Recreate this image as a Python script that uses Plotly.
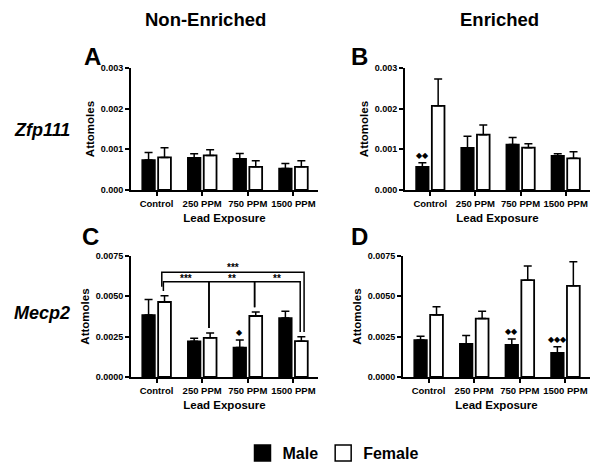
import plotly.graph_objects as go
from plotly.subplots import make_subplots

# Lead exposure groups
doses = ["Control", "250 PPM", "750 PPM", "1500 PPM"]

# Zfp111, non-enriched (panel A)
zfp_ne_male = [0.00074, 0.00079, 0.00077, 0.00053]
zfp_ne_male_err = [0.00018, 0.00010, 0.00013, 0.00012]
zfp_ne_female = [0.00080, 0.00085, 0.00057, 0.00057]
zfp_ne_female_err = [0.00024, 0.00014, 0.00015, 0.00015]

# Zfp111, enriched (panel B)
zfp_en_male = [0.00057, 0.00104, 0.00112, 0.00084]
zfp_en_male_err = [0.00010, 0.00028, 0.00017, 0.00005]
zfp_en_female = [0.00207, 0.00136, 0.00104, 0.00078]
zfp_en_female_err = [0.00066, 0.00024, 0.00010, 0.00016]

# Mecp2, non-enriched (panel C)
mecp_ne_male = [0.00385, 0.00222, 0.00183, 0.00365]
mecp_ne_male_err = [0.00095, 0.00018, 0.00047, 0.00042]
mecp_ne_female = [0.00465, 0.00243, 0.00378, 0.00222]
mecp_ne_female_err = [0.00038, 0.00030, 0.00025, 0.00027]

# Mecp2, enriched (panel D)
mecp_en_male = [0.00230, 0.00206, 0.00200, 0.00150]
mecp_en_male_err = [0.00022, 0.00052, 0.00035, 0.00038]
mecp_en_female = [0.00385, 0.00362, 0.00600, 0.00565]
mecp_en_female_err = [0.00050, 0.00045, 0.00088, 0.00150]

# male vs female markers over male bars
zfp_ne_marks = ["", "", "", ""]
zfp_en_marks = ["◆◆", "", "", ""]
mecp_ne_marks = ["", "", "◆", ""]
mecp_en_marks = ["", "", "◆◆", "◆◆◆"]

# female comparisons in panel C: (group a, group b, stars, level)
mecp_ne_brackets = [(0, 1, "***", 1), (1, 2, "**", 1), (2, 3, "**", 1), (0, 3, "***", 2)]

FONT = "Liberation Sans, Arial, sans-serif"

# the page body has an 8px margin, so the figure is made 8px smaller
# and positions below are given in window pixels
PAD = 8
W, H = 601 - PAD, 475 - PAD


def X(px):
    return (px - PAD) / W


def Y(py):
    return 1 - (py - PAD) / H


fig = make_subplots(rows=2, cols=2, horizontal_spacing=0.1, vertical_spacing=0.1)

panels = [
    (1, 1, zfp_ne_male, zfp_ne_male_err, zfp_ne_female, zfp_ne_female_err, zfp_ne_marks, 0.003, 0.001, ".3f"),
    (1, 2, zfp_en_male, zfp_en_male_err, zfp_en_female, zfp_en_female_err, zfp_en_marks, 0.003, 0.001, ".3f"),
    (2, 1, mecp_ne_male, mecp_ne_male_err, mecp_ne_female, mecp_ne_female_err, mecp_ne_marks, 0.0075, 0.0025, ".4f"),
    (2, 2, mecp_en_male, mecp_en_male_err, mecp_en_female, mecp_en_female_err, mecp_en_marks, 0.0075, 0.0025, ".4f"),
]

OFF = 0.175  # half distance between male/female bar centres (category units)

for r, c, m, me, f, fe, marks, ymax, dt, fmt in panels:
    fig.add_trace(go.Bar(
        x=doses, y=m, name="Male", showlegend=False,
        marker=dict(color="black", line=dict(color="black", width=1.5)),
        error_y=dict(type="data", array=me, arrayminus=[0] * 4, symmetric=False,
                     color="black", thickness=1.5, width=4),
    ), row=r, col=c)
    fig.add_trace(go.Bar(
        x=doses, y=f, name="Female", showlegend=False,
        marker=dict(color="white", line=dict(color="black", width=1.8)),
        error_y=dict(type="data", array=fe, arrayminus=[0] * 4, symmetric=False,
                     color="black", thickness=1.5, width=4),
    ), row=r, col=c)
    fig.update_xaxes(range=[-0.56, 3.54], row=r, col=c)
    fig.update_yaxes(range=[0, ymax], dtick=dt, tick0=0, tickformat=fmt, row=r, col=c)
    # diamonds above male bars
    for i, t in enumerate(marks):
        if t:
            fig.add_annotation(x=i - OFF, y=m[i] + me[i], text=t, showarrow=False,
                               yanchor="bottom", yshift=1, font=dict(size=8, color="black"),
                               row=r, col=c)

# legend entries (square swatches)
fig.add_trace(go.Scatter(x=[None], y=[None], mode="markers", name="Male",
                         marker=dict(symbol="square", size=16, color="black",
                                     line=dict(color="black", width=1.5))))
fig.add_trace(go.Scatter(x=[None], y=[None], mode="markers", name="Female",
                         marker=dict(symbol="square", size=16, color="white",
                                     line=dict(color="black", width=1.5))))

# significance brackets in panel C
level_y = {1: 0.0059, 2: 0.0065}
for a, b, stars, lvl in mecp_ne_brackets:
    y = level_y[lvl]
    shift = 0.06 if lvl == 2 else 0.025
    xa = a + OFF - shift
    xb = b + OFF + (shift if lvl == 2 else -shift)
    ya = mecp_ne_female[a] + mecp_ne_female_err[a] + 0.0003
    yb = mecp_ne_female[b] + mecp_ne_female_err[b] + 0.0003
    if lvl == 2:
        ya = level_y[1] - 0.0003
    fig.add_shape(type="path", path=f"M {xa} {ya} L {xa} {y} L {xb} {y} L {xb} {yb}",
                  line=dict(color="black", width=1.5), xref="x3", yref="y3")
    fig.add_annotation(x=(xa + xb) / 2, y=y, text=stars, showarrow=False, yanchor="bottom",
                       yshift=-3 if lvl == 2 else -4,
                       font=dict(family=FONT, size=10, color="black", weight="bold"),
                       xref="x3", yref="y3")

fig.update_xaxes(
    showline=True, linewidth=2, linecolor="black", ticks="outside", ticklen=4,
    tickwidth=1.5, tickcolor="black", showgrid=False, zeroline=False, automargin=False,
    tickfont=dict(family=FONT, size=9.5, color="black", weight="bold"),
    title=dict(text="Lead Exposure", standoff=6,
               font=dict(family=FONT, size=11.5, color="black", weight="bold")),
)
fig.update_yaxes(
    showline=True, linewidth=2, linecolor="black", ticks="outside", ticklen=4,
    tickwidth=1.5, tickcolor="black", showgrid=False, zeroline=False, automargin=False,
    tickfont=dict(family=FONT, size=9, color="black", weight="bold"),
    title=dict(text="Attomoles", standoff=4,
               font=dict(family=FONT, size=11.5, color="black", weight="bold")),
)

fig.update_layout(
    xaxis=dict(domain=[X(131), X(318)]),
    xaxis2=dict(domain=[X(405), X(590)]),
    xaxis3=dict(domain=[X(131), X(318)]),
    xaxis4=dict(domain=[X(403), X(590)]),
    yaxis=dict(domain=[Y(190), Y(68)]),
    yaxis2=dict(domain=[Y(190), Y(68)]),
    yaxis3=dict(domain=[Y(377), Y(256)]),
    yaxis4=dict(domain=[Y(377), Y(256)]),
)

# headers, panel letters, gene names
texts = [
    ("Non-Enriched", 205, 20, 18.5, "normal"),
    ("Enriched", 499, 20, 18.5, "normal"),
    ("A", 92, 56, 24, "normal"),
    ("B", 359, 56, 24, "normal"),
    ("C", 91, 237, 24, "normal"),
    ("D", 359, 237, 24, "normal"),
    ("Zfp111", 42, 130, 18, "italic"),
    ("Mecp2", 42, 313, 18, "italic"),
]
for t, px_, py_, sz, st in texts:
    fig.add_annotation(x=X(px_), y=Y(py_), xref="paper", yref="paper", text=t,
                       showarrow=False, xanchor="center", yanchor="middle",
                       font=dict(family=FONT, size=sz, color="black", weight="bold", style=st))

fig.update_layout(
    width=W, height=H,
    margin=dict(l=0, r=0, t=0, b=0, autoexpand=False),
    paper_bgcolor="white", plot_bgcolor="white",
    barmode="group", bargap=0.3, bargroupgap=0.2,
    font=dict(family=FONT, color="black"),
    showlegend=True,
    legend=dict(orientation="h", x=X(333), y=Y(453), xanchor="center", yanchor="middle",
                font=dict(family=FONT, size=16, color="black", weight="bold"),
                itemwidth=30, bgcolor="rgba(0,0,0,0)"),
)

fig.write_html("out.html")
